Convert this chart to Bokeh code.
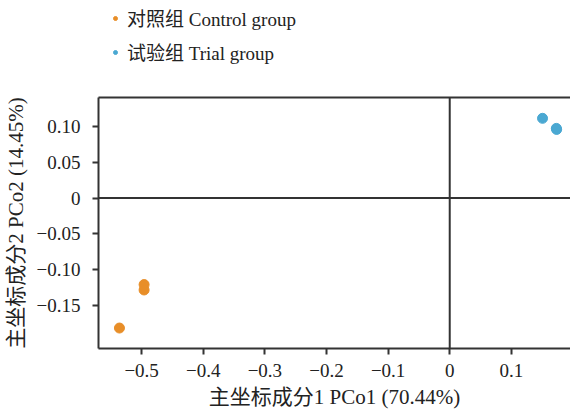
from bokeh.plotting import figure
from bokeh.layouts import column
from bokeh.models import (Span, Legend, LegendItem, FixedTicker, CustomJSTickFormatter,
                          LinearAxis, Range1d)
from bokeh.embed import file_html
from bokeh.resources import INLINE

# data
control_x = [-0.536, -0.496, -0.496]
control_y = [-0.181, -0.1205, -0.128]
trial_x = [0.1506, 0.173, 0.1735]
trial_y = [0.111, 0.097, 0.0955]
x_ticks = [-0.5, -0.4, -0.3, -0.2, -0.1, 0.0, 0.1]
y_ticks = [-0.15, -0.10, -0.05, 0.0, 0.05, 0.10]
labels = ["对照组 Control group", "试验组 Trial group"]
x_title = "主坐标成分1 PCo1 (70.44%)"
y_title = "主坐标成分2 PCo2 (14.45%)"

FONT = "Liberation Serif, Noto Sans CJK SC"
DARK = "#333333"
ORANGE = "#E88E28"
BLUE = "#4AA8D2"

# ---- legend strip (separate small figure above the plot) ----
lg = figure(width=570, height=87, output_backend="svg", toolbar_location=None,
            x_axis_type=None, y_axis_type=None,
            x_range=Range1d(0, 1), y_range=Range1d(0, 1),
            min_border_left=0, min_border_right=0, min_border_top=0, min_border_bottom=0)
lg.outline_line_color = None
lg.grid.visible = False
lg.background_fill_color = "white"
lg.border_fill_color = "white"
# legend proxies placed outside the visible range
d1 = lg.scatter(x=[-5], y=[-5], size=10, color=ORANGE)
d2 = lg.scatter(x=[-5], y=[-5], size=10, color=BLUE)
legend = Legend(items=[LegendItem(label=labels[0], renderers=[d1]),
                       LegendItem(label=labels[1], renderers=[d2])],
                location=(12, 22), orientation="vertical",
                label_text_font=FONT, label_text_font_size="19px", label_text_color="#222222",
                glyph_width=10, glyph_height=26, label_height=26, label_standoff=7,
                spacing=7, padding=0, margin=0,
                border_line_color=None, background_fill_alpha=0)
lg.add_layout(legend)

# ---- main plot ----
p = figure(width=570, height=325, output_backend="svg", toolbar_location=None,
           x_range=Range1d(-0.570, 0.196), y_range=Range1d(-0.2095, 0.140),
           min_border_left=95, min_border_top=10, min_border_right=0, min_border_bottom=64)
p.outline_line_color = None
p.grid.visible = False
p.background_fill_color = "white"
p.border_fill_color = "white"

p.scatter(control_x, control_y, size=10, color=ORANGE)
p.scatter(trial_x, trial_y, size=10, color=BLUE)

for d in ("width", "height"):
    p.add_layout(Span(location=0, dimension=d, line_color=DARK, line_width=2))

fx = CustomJSTickFormatter(code="""
if (Math.abs(tick) < 1e-9) return "0";
return tick.toFixed(1).replace("-", "\u2212");
""")
fy = CustomJSTickFormatter(code="""
if (Math.abs(tick) < 1e-9) return "0";
return tick.toFixed(2).replace("-", "\u2212");
""")

p.xaxis.ticker = FixedTicker(ticks=x_ticks)
p.yaxis.ticker = FixedTicker(ticks=y_ticks)
p.xaxis.formatter = fx
p.yaxis.formatter = fy
p.xaxis.axis_label = x_title
p.yaxis.axis_label = y_title
for ax in (p.xaxis[0], p.yaxis[0]):
    ax.axis_line_color = DARK
    ax.axis_line_width = 2
    ax.major_tick_line_color = DARK
    ax.major_tick_line_width = 2
    ax.major_tick_out = 6
    ax.major_tick_in = 0
    ax.minor_tick_line_color = None
    ax.major_label_text_font = FONT
    ax.major_label_text_font_size = "19px"
    ax.major_label_text_color = "#222222"
    ax.axis_label_text_font = FONT
    ax.axis_label_text_font_size = "21px"
    ax.axis_label_text_font_style = "normal"
    ax.axis_label_text_color = "#222222"
p.xaxis.major_label_standoff = 9
p.yaxis.major_label_standoff = 12
p.xaxis.axis_label_standoff = 5
p.yaxis.axis_label_standoff = 6

top = LinearAxis(ticker=FixedTicker(ticks=[]), axis_line_color=DARK, axis_line_width=2,
                 major_tick_line_color=None, minor_tick_line_color=None,
                 major_label_text_font_size="0px")
p.add_layout(top, "above")

layout = column(lg, p, spacing=0)
open("out.html", "w").write(file_html(layout, INLINE))
